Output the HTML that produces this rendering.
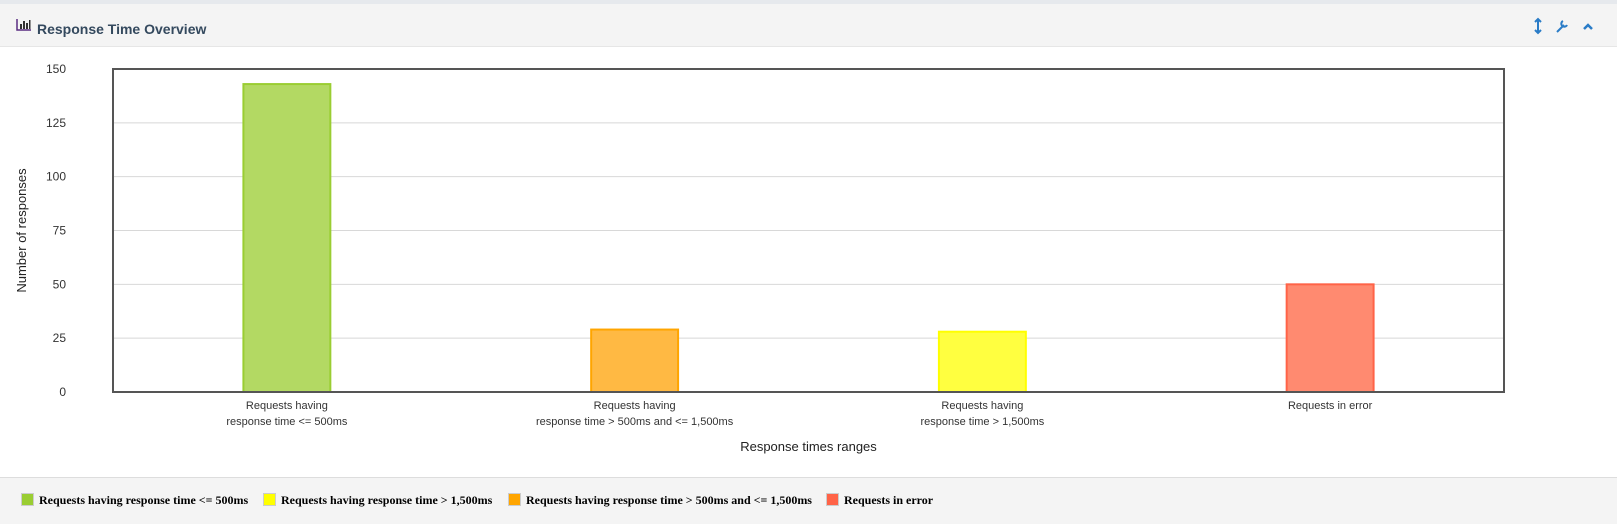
<!DOCTYPE html>
<html><head><meta charset="utf-8"><style>
body{margin:0;width:1617px;height:523px;overflow:hidden;background:#fff;font-family:"Liberation Sans",sans-serif;position:relative}
.top{position:absolute;left:0;top:0;width:1617px;height:4px;background:#e6e9ed}
.hdr{position:absolute;left:0;top:4px;width:1617px;height:42px;background:#f4f4f4;border-bottom:1px solid #e6e6e6}
.ttl{position:absolute;left:37px;top:17px;font-size:14px;font-weight:bold;color:#34495e}
.leg{position:absolute;left:0;top:477px;width:1617px;height:46px;background:#f4f4f4;border-top:1px solid #ddd}
.li{position:absolute;top:15px;font-family:"Liberation Serif",serif;font-weight:bold;font-size:12px;color:#000;white-space:nowrap}
.sw{display:inline-block;width:11px;height:11px;border:1px solid #ccc;vertical-align:-2px;margin-right:5px}
</style></head><body>
<div class="top"></div>
<div class="hdr">
<svg style="position:absolute;left:16px;top:15px" width="15" height="12"><path d="M1 0V11H15" stroke="#5a2d82" fill="none" stroke-width="1.5"/><rect x="4" y="5" width="2" height="5" fill="#333"/><rect x="7" y="2" width="2" height="8" fill="#333"/><rect x="10" y="4" width="2" height="6" fill="#333"/><rect x="13" y="1" width="1.5" height="9" fill="#333"/></svg>
<div class="ttl">Response Time Overview</div>
<svg style="position:absolute;left:1532px;top:13px" width="70" height="18">
<g stroke="#2a7cc7" stroke-width="2" fill="none"><path d="M6 2V16M3 5L6 2L9 5M3 13L6 16L9 13"/></g>
<g stroke="#2a7cc7" stroke-width="2" fill="none"><path d="M25 15L32 8M31 4A3 3 0 1 0 35 8"/></g>
<g stroke="#2a7cc7" stroke-width="2.5" fill="none"><path d="M52 12L56 8L60 12"/></g>
</svg>
</div>
<svg id="chart" style="position:absolute;left:0;top:47px" width="1617" height="430"></svg>
<div class="leg">
<span class="li" style="left:21px"><span class="sw" style="background:#9acd32"></span>Requests having response time &lt;= 500ms</span>
<span class="li" style="left:263px"><span class="sw" style="background:#ffff00"></span>Requests having response time &gt; 1,500ms</span>
<span class="li" style="left:508px"><span class="sw" style="background:#ffa500"></span>Requests having response time &gt; 500ms and &lt;= 1,500ms</span>
<span class="li" style="left:826px"><span class="sw" style="background:#ff6347"></span>Requests in error</span>
</div>
<script>
const categories=[["Requests having","response time <= 500ms"],["Requests having","response time > 500ms and <= 1,500ms"],["Requests having","response time > 1,500ms"],["Requests in error"]];
const values=[143,29,28,50];
const fills=["#b3d963","#ffb943","#ffff40","#ff8a70"];
const strokes=["#9acd32","#ffa500","#ffff00","#ff6347"];
const yTicks=[0,25,50,75,100,125,150];
const svg=document.getElementById('chart');const NS='http://www.w3.org/2000/svg';
const OY=47,L=113,R=1504,T=69-OY,B=392-OY,YMAX=150;
const y=v=>B-(v/YMAX)*(B-T);const cw=(R-L)/categories.length;const x=i=>L+cw*(i+0.5);
function el(t,a,txt){const e=document.createElementNS(NS,t);for(const k in a)e.setAttribute(k,a[k]);if(txt!=null)e.textContent=txt;svg.appendChild(e);return e;}
yTicks.forEach(v=>{
 if(v>0&&v<YMAX){const g=el('line',{x1:L,x2:R,y1:y(v),y2:y(v),stroke:'#d8d8d8'});}
 const t=el('text',{x:66,y:y(v)+4,'text-anchor':'end','font-size':12,fill:'#333'},v);
 
 
});
values.forEach((v,i)=>{
 const w=cw*0.25;
 const r=el('rect',{x:x(i)-w/2,y:y(v),width:w,height:B-y(v),fill:fills[i],stroke:strokes[i],'stroke-width':2});
 
 
 categories[i].forEach((ln,j)=>{const t=el('text',{x:x(i),y:405-OY+4+j*16,'text-anchor':'middle','font-size':11,fill:'#333'},ln);
 
 });
});
const fr=el('rect',{x:L,y:T,width:R-L,height:B-T,fill:'none',stroke:'#555','stroke-width':2});


const xt=el('text',{x:(L+R)/2,y:451-OY,'text-anchor':'middle','font-size':13,fill:'#222'},'Response times ranges');


const yt=el('text',{x:0,y:0,'text-anchor':'middle','font-size':13,fill:'#222',transform:'translate(26,'+((T+B)/2)+') rotate(-90)'},'Number of responses');


</script>
</body></html>
